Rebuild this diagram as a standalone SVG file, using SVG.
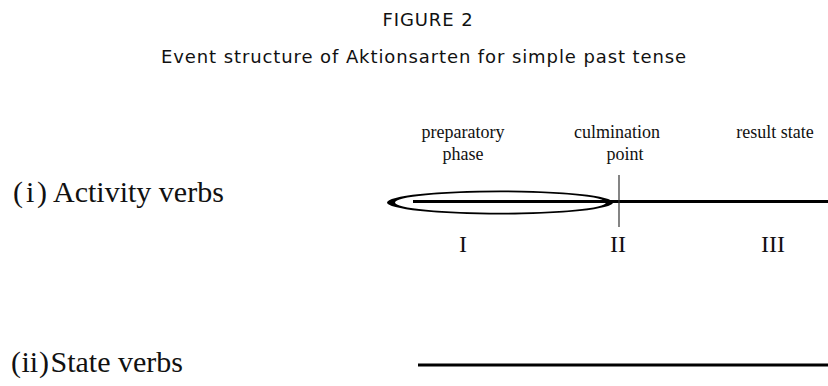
<svg xmlns="http://www.w3.org/2000/svg" width="828" height="386" viewBox="0 0 828 386">
<style>
.title{font-family:"DejaVu Sans",Verdana,sans-serif;font-size:18px;letter-spacing:0.9px;fill:#111;text-anchor:middle}
.lab{font-family:"Liberation Serif","Times New Roman",serif;font-size:18px;fill:#111;text-anchor:middle}
.rom{font-family:"Liberation Serif","Times New Roman",serif;font-size:24px;fill:#111;text-anchor:middle}
.row{font-family:"Liberation Serif","Times New Roman",serif;font-size:30px;fill:#111}
.thick{stroke:#000;stroke-width:3;fill:none}
.thin{stroke:#333;stroke-width:1.2;fill:none}
</style>
<rect width="828" height="386" fill="#fff"/>
<g id="title">
<text class="title" x="428" y="26">FIGURE 2</text>
<text class="title" x="424" y="63">Event structure of Aktionsarten for simple past tense</text>
</g>
<g id="row-activity">
<text class="row" x="13" y="202"><tspan x="13">(</tspan><tspan x="26">i</tspan><tspan x="37">)</tspan><tspan x="53">Activity verbs</tspan></text>
</g>
<g id="row-state">
<text class="row" x="11" y="372"><tspan x="11">(</tspan><tspan x="21.5">ii</tspan><tspan x="39">)</tspan><tspan x="50.5">State verbs</tspan></text>
</g>
<g id="phase-labels">
<text class="lab" x="463" y="138">preparatory</text>
<text class="lab" x="463" y="160">phase</text>
<text class="lab" x="617" y="138">culmination</text>
<text class="lab" x="625" y="160">point</text>
<text class="lab" x="775" y="138">result state</text>
</g>
<g id="numerals">
<text class="rom" x="463" y="252">I</text>
<text class="rom" x="618" y="252">II</text>
<text class="rom" x="773" y="252">III</text>
</g>
<g id="connectors">
<line class="thick" x1="413" y1="201.5" x2="828" y2="201.5"/>
<line class="thin" x1="619" y1="175" x2="619" y2="227"/>
<path fill="#000" fill-rule="evenodd" d="M387,202.5 a113,12 0 1,0 226,0 a113,12 0 1,0 -226,0 Z M395,202.5 a105.5,10.3 0 1,0 211,0 a105.5,10.3 0 1,0 -211,0 Z"/>
<line class="thick" x1="418" y1="365" x2="828" y2="365"/>
</g>
</svg>
